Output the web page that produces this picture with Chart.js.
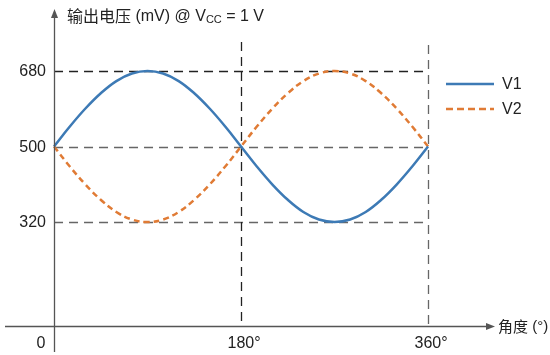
<!DOCTYPE html>
<html><head><meta charset="utf-8">
<script src="https://cdn.jsdelivr.net/npm/chart.js@4/dist/chart.umd.min.js"></script>
<style>html,body{margin:0;padding:0;background:#fff}#w{width:550px;height:355px}</style>
</head><body><div id="w"><canvas id="c"></canvas></div>
<script>
const angles = [0,15,30,45,60,75,90,105,120,135,150,165,180,195,210,225,240,255,270,285,300,315,330,345,360];
const v1 = [500,547,590,627,656,674,680,674,656,627,590,547,500,453,410,373,344,326,320,326,344,373,410,453,500];
const v2 = [500,453,410,373,344,326,320,326,344,373,410,453,500,547,590,627,656,674,680,674,656,627,590,547,500];
const yTicks = [320,500,680];
const xTicks = [180,360];
const xTickLabels = ['180°','360°'];
const seriesNames = ['V1','V2'];
const colors = ['#3d7ab5','#e07b35'];

const LAT = '"Liberation Sans", Arial, sans-serif';
const CJK = '"Noto Sans CJK SC", sans-serif';

const deco = {
  id:'deco',
  beforeDatasetsDraw(chart){
    const ctx = chart.ctx, xs = chart.scales.x, ys = chart.scales.y;
    const x0 = xs.getPixelForValue(0), x360 = xs.getPixelForValue(360);
    ctx.save();
    ctx.lineWidth = 1.3;
    ctx.setLineDash([9,6]);
    yTicks.forEach((t,i)=>{
      const y = Math.round(ys.getPixelForValue(t))+0.5;
      ctx.strokeStyle = t===680 ? '#222' : '#666';
      ctx.beginPath(); ctx.moveTo(x0, y); ctx.lineTo(x360, y); ctx.stroke();
    });
    xTicks.forEach((t,i)=>{
      const x = Math.round(xs.getPixelForValue(t))+0.5;
      ctx.strokeStyle = t===180 ? '#222' : '#666';
      ctx.beginPath(); ctx.moveTo(x, t===180?42:45); ctx.lineTo(x, ys.getPixelForValue(72)); ctx.stroke();
    });
    ctx.restore();
  },
  afterDraw(chart){
    const ctx = chart.ctx, xs = chart.scales.x, ys = chart.scales.y;
    const ax = Math.round(xs.getPixelForValue(0))+0.5;
    const ay = Math.round(ys.getPixelForValue(72))+0.5;
    ctx.save();
    ctx.strokeStyle = '#555'; ctx.fillStyle = '#555'; ctx.lineWidth = 1.3;
    ctx.beginPath(); ctx.moveTo(ax, 352); ctx.lineTo(ax, 16); ctx.stroke();
    ctx.beginPath(); ctx.moveTo(ax, 9); ctx.lineTo(ax-3.5, 18); ctx.lineTo(ax+3.5, 18); ctx.closePath(); ctx.fill();
    ctx.beginPath(); ctx.moveTo(5, ay); ctx.lineTo(488, ay); ctx.stroke();
    ctx.beginPath(); ctx.moveTo(495, ay); ctx.lineTo(486, ay-3.5); ctx.lineTo(486, ay+3.5); ctx.closePath(); ctx.fill();

    ctx.fillStyle = '#222';
    ctx.font = '16px '+LAT;
    ctx.textBaseline = 'middle';
    ctx.textAlign = 'right';
    yTicks.forEach(t=>{ ctx.fillText(String(t), 46, ys.getPixelForValue(t)+1); });
    ctx.textAlign = 'center';
    ctx.fillText('0', 41, 344);
    xTicks.forEach((t,i)=>{ ctx.fillText(xTickLabels[i], xs.getPixelForValue(t)+3, 344); });

    // x axis title
    ctx.textAlign = 'left';
    ctx.font = '15px '+CJK;
    ctx.fillText('角度', 498, ay);
    let w = ctx.measureText('角度').width;
    ctx.font = '15px '+LAT;
    ctx.fillText(' (°)', 498+w, ay);

    // y axis title
    let x = 67, y = 16;
    ctx.font = '16px '+CJK;
    ctx.fillText('输出电压', x, y); x += ctx.measureText('输出电压').width;
    ctx.font = '16px '+LAT;
    ctx.fillText(' (mV) @ V', x, y+1); x += ctx.measureText(' (mV) @ V').width;
    ctx.font = '11px '+LAT;
    ctx.fillText('CC', x, y+4); x += ctx.measureText('CC').width;
    ctx.font = '16px '+LAT;
    ctx.fillText(' = 1 V', x, y+1);

    // legend
    const ly = [84,109];
    seriesNames.forEach((n,i)=>{
      ctx.strokeStyle = colors[i]; ctx.lineWidth = 2.5;
      ctx.setLineDash(i===1 ? [7,4] : []);
      ctx.beginPath(); ctx.moveTo(446, ly[i]); ctx.lineTo(494, ly[i]); ctx.stroke();
      ctx.setLineDash([]);
      ctx.fillStyle = '#222'; ctx.font = '16px '+LAT;
      ctx.fillText(n, 502, ly[i]+1);
    });
    ctx.restore();
  }
};

new Chart(document.getElementById('c'), {
  type:'line',
  data:{
    datasets:[
      {label:seriesNames[0], data:angles.map((a,i)=>({x:a,y:v1[i]})), borderColor:colors[0], borderWidth:2.5, pointRadius:0, tension:0.4, fill:false},
      {label:seriesNames[1], data:angles.map((a,i)=>({x:a,y:v2[i]})), borderColor:colors[1], borderWidth:2.5, borderDash:[6,4], pointRadius:0, tension:0.4, fill:false}
    ]
  },
  options:{
    responsive:true, maintainAspectRatio:false, animation:false,
    layout:{padding:0},
    plugins:{legend:{display:false}, tooltip:{enabled:false}},
    scales:{
      x:{type:'linear', display:false, min:-52, max:477.4},
      y:{type:'linear', display:false, min:3, max:849.3}
    }
  },
  plugins:[deco]
});
</script></body></html>
